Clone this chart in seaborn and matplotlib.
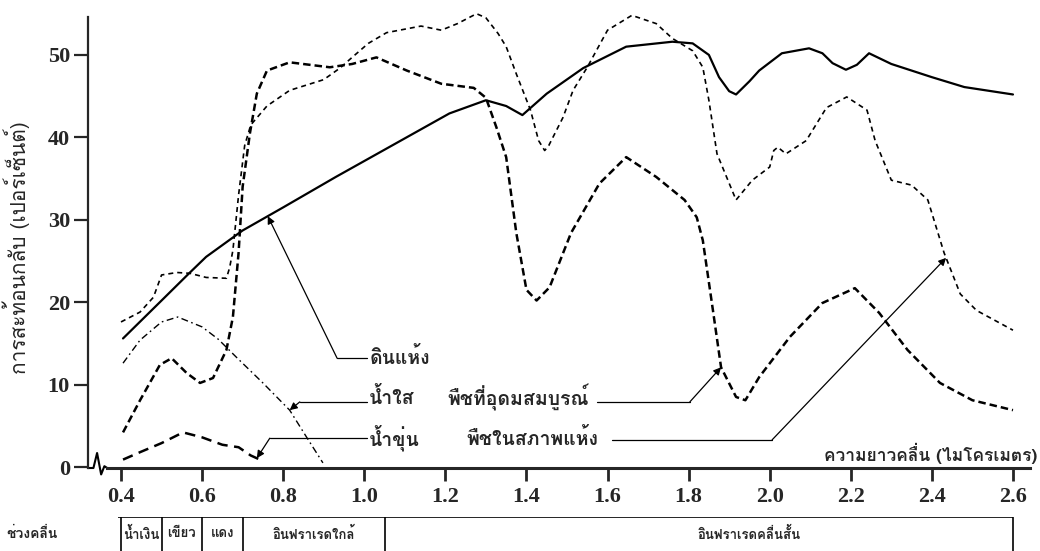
import numpy as np
import pandas as pd
import matplotlib
matplotlib.use("Agg")
import matplotlib.pyplot as plt
import seaborn as sns
from matplotlib import font_manager
from matplotlib.ft2font import FT2Font

# Values (wavelength in micrometres, reflectance in %)
soil_wl = [0.405, 0.5, 0.57, 0.61, 0.7, 0.8, 0.93, 1.05, 1.21, 1.30, 1.35, 1.39, 1.45, 1.54,
           1.646, 1.76, 1.81, 1.85, 1.875, 1.9, 1.917, 1.95, 1.974, 2.03, 2.097, 2.13, 2.155,
           2.188, 2.215, 2.245, 2.3, 2.4, 2.48, 2.6]
soil_ref = [15.6, 20.2, 23.6, 25.5, 28.7, 31.5, 35.2, 38.5, 42.9, 44.5, 43.8, 42.7, 45.3, 48.4,
            51.0, 51.6, 51.4, 50.0, 47.3, 45.6, 45.2, 46.8, 48.1, 50.2, 50.8, 50.2, 49.0,
            48.2, 48.8, 50.2, 48.9, 47.3, 46.1, 45.2]

green_wl = [0.405, 0.447, 0.496, 0.525, 0.562, 0.595, 0.627, 0.66, 0.676, 0.69, 0.70, 0.718,
            0.735, 0.76, 0.816, 0.915, 0.97, 1.03, 1.105, 1.19, 1.27, 1.30, 1.326, 1.35, 1.375,
            1.40, 1.425, 1.457, 1.51, 1.58, 1.646, 1.72, 1.79, 1.82, 1.835, 1.86, 1.88, 1.917,
            1.94, 1.974, 2.05, 2.13, 2.21, 2.27, 2.34, 2.42, 2.50, 2.6]
green_ref = [4.2, 8.1, 12.4, 13.2, 11.4, 10.2, 10.8, 14.2, 18.2, 26.0, 34.0, 40.5,
             45.3, 48.1, 49.1, 48.5, 48.9, 49.7, 48.1, 46.5, 46.0, 44.8, 41.2, 37.6, 28.4,
             21.5, 20.2, 21.8, 28.4, 34.4, 37.6, 35.2, 32.4, 30.3, 27.5, 19.0, 12.1, 8.5,
             8.1, 10.9, 15.8, 19.9, 21.7, 18.7, 14.2, 10.2, 8.1, 6.9]

dry_wl = [0.40, 0.447, 0.48, 0.50, 0.538, 0.57, 0.61, 0.66, 0.668, 0.676, 0.69, 0.705, 0.72,
          0.76, 0.816, 0.9, 0.94, 0.97, 1.01, 1.055, 1.14, 1.19, 1.23, 1.277, 1.30, 1.33, 1.35,
          1.375, 1.41, 1.43, 1.445, 1.455, 1.49, 1.515, 1.55, 1.60, 1.66, 1.72, 1.76, 1.81,
          1.835, 1.85, 1.87, 1.917, 1.957, 2.0, 2.01, 2.02, 2.04, 2.09, 2.14, 2.19, 2.24,
          2.26, 2.30, 2.35, 2.39, 2.43, 2.47, 2.51, 2.6]
dry_ref = [17.6, 18.8, 20.6, 23.3, 23.6, 23.5, 23.0, 22.9, 24.2, 26.3, 33.0, 39.0, 41.5,
           43.8, 45.7, 47.0, 48.4, 49.7, 51.4, 52.7, 53.5, 53.0, 53.8, 55.0, 54.5, 52.6, 51.0,
           47.7, 43.3, 39.6, 38.4, 39.0, 42.4, 45.7, 48.5, 53.0, 54.8, 53.8, 52.0, 50.5,
           48.5, 44.5, 38.0, 32.4, 34.8, 36.4, 38.4, 38.8, 38.0, 39.6, 43.6, 44.9, 43.3,
           39.6, 34.8, 34.2, 32.4, 26.0, 21.0, 19.0, 16.6]

clear_wl = [0.405, 0.447, 0.5, 0.54, 0.6, 0.64, 0.685, 0.75, 0.816, 0.858, 0.898]
clear_ref = [12.6, 15.4, 17.6, 18.2, 17.0, 15.5, 13.3, 10.2, 6.9, 3.6, 0.5]

turbid_wl = [0.405, 0.447, 0.5, 0.553, 0.6, 0.65, 0.69, 0.72, 0.747]
turbid_ref = [0.9, 1.8, 2.9, 4.2, 3.6, 2.7, 2.4, 1.4, 0.8]

x_ticks = [0.4, 0.6, 0.8, 1.0, 1.2, 1.4, 1.6, 1.8, 2.0, 2.2, 2.4, 2.6]
y_ticks = [0, 10, 20, 30, 40, 50]

band_edges = [0.4, 0.5, 0.6, 0.7, 1.05, 2.6]
band_names = ["น้ำเงิน", "เขียว", "แดง", "อินฟราเรดใกล้", "อินฟราเรดคลื่นสั้น"]

name_soil = "ดินแห้ง"
name_clear = "น้ำใส"
name_turbid = "น้ำขุ่น"
name_green = "พืชที่อุดมสมบูรณ์"
name_dry = "พืชในสภาพแห้ง"


# pick an installed font that has Thai glyphs, preferably one with a bold face
def find_thai_font():
    weights = {}
    for f in font_manager.fontManager.ttflist:
        try:
            if FT2Font(f.fname).get_char_index(0x0E01):
                w = f.weight if isinstance(f.weight, int) else 400
                weights.setdefault(f.name, set()).add(w)
        except Exception:
            continue
    prefs = ["Noto Sans Thai", "Noto Sans Thai UI", "Noto Serif Thai", "Loma", "Garuda",
             "Norasi", "Kinnari", "Waree", "Laksaman", "Sawasdee", "Umpush", "Tlwg Typo"]
    bold = [n for n in weights if max(weights[n]) >= 600]
    for pref in prefs:
        if pref in bold:
            return pref
    if bold:
        return bold[0]
    for pref in prefs:
        if pref in weights:
            return pref
    return next(iter(weights), "DejaVu Sans")


sns.set_style("ticks")
thai = find_thai_font()
plt.rcParams["font.family"] = [thai, "DejaVu Sans"]
thai_fam = [thai, "DejaVu Sans"]
num_fam = ["Liberation Serif", "DejaVu Serif"]

fig = plt.figure(figsize=(10.4, 5.51), dpi=100)
ax = fig.add_axes([88 / 1040, 83 / 551, 942 / 1040, 451 / 551])

series = [
    (soil_wl, soil_ref, 1.6, "-"),
    (green_wl, green_ref, 1.8, (0, (3.0, 1.6))),
    (dry_wl, dry_ref, 1.2, (0, (3.0, 2.4))),
    (clear_wl, clear_ref, 1.0, (0, (5, 2.5, 1.2, 2.5))),
    (turbid_wl, turbid_ref, 1.8, (0, (4.2, 2.6))),
]
for wl, ref, lw, ls in series:
    df = pd.DataFrame({"wl": wl, "ref": ref})
    sns.lineplot(data=df, x="wl", y="ref", ax=ax, color="black", linewidth=lw,
                 linestyle=ls, estimator=None, clip_on=False)

ax.set_xlim(0.3186, 2.642)
ax.set_ylim(-0.12, 54.6)
ax.set_xticks(x_ticks)
ax.set_xticklabels([f"{t:.1f}" for t in x_ticks], fontfamily=num_fam,
                   fontweight="bold", fontsize=16)
ax.set_yticks(y_ticks)
ax.set_yticklabels([str(t) for t in y_ticks], fontfamily=num_fam,
                   fontweight="bold", fontsize=16)
ax.tick_params(axis="x", length=9.5, width=2, pad=4, direction="out")
ax.tick_params(axis="y", length=10, width=1.6, pad=3, direction="out")
ax.set_xlabel("")
ax.set_ylabel("")
for s in ["top", "right"]:
    ax.spines[s].set_visible(False)
ax.spines["left"].set_linewidth(1.6)
ax.spines["bottom"].set_linewidth(2.2)
ax.spines["bottom"].set_bounds(0.366, 2.642)

# axis break zigzag next to the y axis
ax.plot([0.3186, 0.332, 0.341, 0.351, 0.359, 0.366], [-0.12, -0.12, 1.7, -0.9, 0.1, -0.12],
        color="black", lw=1.5, clip_on=False)

fig.text(0.016, 0.55, "การสะท้อนกลับ (เปอร์เซ็นต์)", rotation=90, ha="center",
         va="center", fontsize=15, family=thai_fam)
fig.text(0.997, 98 / 551, "ความยาวคลื่น (ไมโครเมตร)", ha="right", va="center",
         fontsize=12.5, fontweight="bold", family=thai_fam)

# labels with leader lines / arrows pointing onto the curves
arrow = dict(arrowstyle="-|>", color="black", lw=0.9, shrinkA=0, shrinkB=0,
             mutation_scale=11)
labels = [
    (name_soil, 1.012, 13.3, (0.933, 13.2), (1.007, 13.2), 0.762, soil_wl, soil_ref),
    (name_clear, 1.012, 8.4, (0.841, 7.9), (1.007, 7.9), 0.816, clear_wl, clear_ref),
    (name_turbid, 1.012, 3.5, (0.767, 3.5), (1.007, 3.5), 0.735, turbid_wl, turbid_ref),
]
for text, tx, ty, p0, p1, tip, wl, ref in labels:
    ax.text(tx, ty, text, ha="left", va="center", fontsize=14, fontweight="bold",
            family=thai_fam)
    ax.plot([p0[0], p1[0]], [p0[1], p1[1]], color="black", lw=0.9)
    ax.annotate("", xy=(tip, np.interp(tip, wl, ref)), xytext=p0, arrowprops=arrow)

right_labels = [
    (name_green, 1.204, 8.4, (1.574, 7.9), (1.803, 7.9), 1.88, green_wl, green_ref),
    (name_dry, 1.253, 3.5, (1.611, 3.3), (2.006, 3.3), 2.435, dry_wl, dry_ref),
]
for text, tx, ty, p0, p1, tip, wl, ref in right_labels:
    ax.text(tx, ty, text, ha="left", va="center", fontsize=14, fontweight="bold",
            family=thai_fam)
    ax.plot([p0[0], p1[0]], [p0[1], p1[1]], color="black", lw=0.9)
    ax.annotate("", xy=(tip, np.interp(tip, wl, ref)), xytext=p1, arrowprops=arrow)

# spectral band strip under the x axis
ax2 = fig.add_axes([88 / 1040, 0, 942 / 1040, 34 / 551])
ax2.set_xlim(ax.get_xlim())
ax2.set_ylim(0, 1)
ax2.axis("off")
ax2.hlines(1, band_edges[0] - 0.007, band_edges[-1], color="black", lw=1.2)
ax2.vlines(band_edges, 0, 1, color="black", lw=1.2)
band_pos = [(a + b) / 2 for a, b in zip(band_edges[:-1], band_edges[1:])]
band_pos[-1] = 1.95
for name, xc in zip(band_names, band_pos):
    ax2.text(xc, 0.5, name, ha="center", va="center", fontsize=9.5, fontweight="bold",
             family=thai_fam)
fig.text(0.006, 17 / 551, "ช่วงคลื่น", ha="left", va="center", fontsize=10,
         fontweight="bold", family=thai_fam)

fig.savefig("out.png", dpi=100)
